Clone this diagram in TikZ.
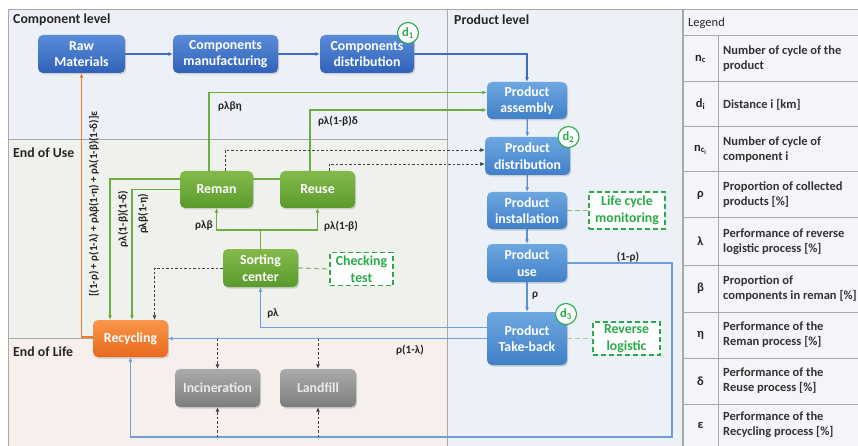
\documentclass[tikz,border=0pt]{standalone}
\usepackage{fontspec}
\setmainfont{Carlito}
\usetikzlibrary{shadows,arrows.meta,calc}
\pgfdeclarelayer{back}
\pgfdeclarelayer{lines}
\pgfsetlayers{back,lines,main}
\definecolor{panelC}{HTML}{EDF0F6}
\definecolor{panelU}{HTML}{EEF1EC}
\definecolor{panelL}{HTML}{F6EFEC}
\definecolor{panelP}{HTML}{ECF0F7}
\definecolor{legfill}{HTML}{F4F5F8}
\definecolor{gridc}{HTML}{A8A8A8}
\definecolor{bdTop}{HTML}{5B8CD9}
\definecolor{bdBot}{HTML}{2F62B8}
\definecolor{blTop}{HTML}{6DA7E1}
\definecolor{blBot}{HTML}{4080C8}
\definecolor{grTop}{HTML}{84BA4C}
\definecolor{grBot}{HTML}{5A9A2D}
\definecolor{orTop}{HTML}{F8964A}
\definecolor{orBot}{HTML}{E86A1C}
\definecolor{gyTop}{HTML}{AAAAAA}
\definecolor{gyBot}{HTML}{7E7E7E}
\definecolor{lnDark}{HTML}{3E6BC1}
\definecolor{lnBlue}{HTML}{5B8FD0}
\definecolor{lnLight}{HTML}{6E9FD8}
\definecolor{lnGreen}{HTML}{6DAD3E}
\definecolor{lnOrange}{HTML}{EE7A30}
\definecolor{txGreen}{HTML}{2BAA4A}
\tikzset{
  nfont/.style={font=\fontsize{13.8}{16.5}\selectfont\bfseries},
  box/.style={rounded corners=5pt, inner sep=0pt, align=center, text=white, nfont,
    drop shadow={opacity=0.3, shadow xshift=1.2pt, shadow yshift=-1.5pt}},
  bluedark/.style={box, top color=bdTop, bottom color=bdBot},
  bluelight/.style={box, top color=blTop, bottom color=blBot},
  greenbox/.style={box, top color=grTop, bottom color=grBot},
  orangebox/.style={box, top color=orTop, bottom color=orBot},
  graybox/.style={box, top color=gyTop, bottom color=gyBot, text=white!92!black},
  checkbox/.style={draw=txGreen, dashed, dash pattern=on 5pt off 3pt, line width=1.2pt, fill=white,
    inner sep=0pt, align=center, text=txGreen, nfont},
  dcirc/.style={circle, draw=txGreen, line width=1.1pt, fill=white, inner sep=0pt,
    minimum size=21pt, text=txGreen, font=\fontsize{12.5}{12.5}\selectfont\bfseries},
  tip/.style={-{Latex[length=4.5pt,width=4pt]}},
  dkline/.style={draw=lnDark, line width=1.2pt},
  blline/.style={draw=lnBlue, line width=1.2pt},
  ltline/.style={draw=lnLight, line width=1.5pt},
  grline/.style={draw=lnGreen, line width=1.3pt},
  orline/.style={draw=lnOrange, line width=1.5pt},
  dashline/.style={draw=black!75, line width=0.8pt, dash pattern=on 2.5pt off 2pt},
  gdash/.style={draw=lnGreen!80, line width=1.2pt, dash pattern=on 5pt off 3pt},
  elabel/.style={font=\fontsize{11.3}{13}\selectfont\bfseries, text=black!85, inner sep=0pt},
  ptitle/.style={font=\fontsize{13.8}{16}\selectfont\bfseries, text=black!85, anchor=west, inner sep=0pt},
  legtext/.style={font=\fontsize{12.5}{15}\selectfont\bfseries, text=black!80, anchor=west, align=left, inner sep=0pt},
  legsym/.style={font=\fontsize{12.5}{13}\selectfont\bfseries, text=black!85, inner sep=0pt},
}
\begin{document}
\begin{tikzpicture}[x=1pt,y=-1pt]
\useasboundingbox (0,0) rectangle (858,446);

% panels
\begin{pgfonlayer}{back}
\fill[white] (0,0) rectangle (858,446);
\fill[panelC] (8,10) rectangle (447,140);
\fill[panelU] (8,140) rectangle (447,338);
\fill[panelL] (8,338) rectangle (447,446);
\fill[panelP] (447,10) rectangle (682,446);
\draw[gridc, line width=1pt] (8,446) -- (8,10) -- (682,10) -- (682,446);
\draw[gridc, line width=1pt] (8,140) -- (447,140);
\draw[gridc, line width=1pt] (8,338) -- (447,338);
\draw[gridc, line width=1pt] (447,10) -- (447,446);
% legend
\fill[legfill] (683,10) rectangle (858,446);
\draw[gridc, line width=1pt] (858,10) -- (683,10) -- (683,446);
\foreach \yy in {36,82,127,172,218,265,312,358,404}
  \draw[gridc, line width=1pt] (683,\yy) -- (858,\yy);
\draw[gridc, line width=1pt] (718,36) -- (718,446);
\end{pgfonlayer}

\node[ptitle] (tcomp) at (13,20) {Component level};
\node[ptitle] (tuse) at (13,153) {End of Use};
\node[ptitle] (tlife) at (13,352) {End of Life};
\node[ptitle] (tprod) at (454,20) {Product level};
\node[ptitle, font=\fontsize{12.5}{14}\selectfont, text=black!85] (tleg) at (688,23) {Legend};

% nodes
\node[bluedark, minimum width=87pt, minimum height=38pt] (raw) at (81.5,54) {Raw\\Materials};
\node[bluedark, minimum width=105pt, minimum height=38pt] (cman) at (225.5,54) {Components\\manufacturing};
\node[bluedark, minimum width=94pt, minimum height=38pt] (cdist) at (367,54) {Components\\distribution};
\node[bluelight, minimum width=80pt, minimum height=37pt] (pass) at (527,100.5) {Product\\assembly};
\node[bluelight, minimum width=85pt, minimum height=38pt] (pdist) at (527.5,156) {Product\\distribution};
\node[bluelight, minimum width=80pt, minimum height=37pt] (pinst) at (527,210.5) {Product\\installation};
\node[bluelight, minimum width=80pt, minimum height=38pt] (puse) at (527,263) {Product\\use};
\node[bluelight, minimum width=80pt, minimum height=53pt] (ptb) at (527,338.5) {Product\\Take-back};
\node[greenbox, minimum width=73pt, minimum height=37pt] (reman) at (216.5,189.5) {Reman};
\node[greenbox, minimum width=75pt, minimum height=37pt] (reuse) at (317.5,189.5) {Reuse};
\node[greenbox, minimum width=75pt, minimum height=38pt] (sort) at (260.5,268) {Sorting\\center};
\node[orangebox, minimum width=75pt, minimum height=37pt] (recyc) at (130.5,338.5) {Recycling};
\node[graybox, minimum width=85pt, minimum height=38pt] (incin) at (217.5,388) {Incineration};
\node[graybox, minimum width=76pt, minimum height=38pt] (land) at (318,388) {Landfill};
\node[checkbox, minimum width=63pt, minimum height=33pt] (check) at (361.5,269) {Checking\\test};
\node[checkbox, minimum width=76pt, minimum height=37pt] (lcm) at (627,210.5) {Life cycle\\monitoring};
\node[checkbox, minimum width=67pt, minimum height=33pt] (revl) at (626.5,338.5) {Reverse\\logistic};
\node[dcirc] (d1) at (408,33) {d\textsubscript{1}};
\node[dcirc] (d2) at (568.5,137) {d\textsubscript{2}};
\node[dcirc] (d3) at (566,314) {d\textsubscript{3}};

\coordinate (split) at (260.5,230);
\coordinate (cr) at (672,437);

\begin{pgfonlayer}{lines}
% top row
\draw[dkline, tip] (raw) -- (cman);
\draw[dkline, tip] (cman) -- (cdist);
\draw[dkline, tip] (cdist.east) -| (pass.north);
% product chain
\draw[blline, tip] (pass) -- (pdist);
\draw[blline, tip] (pdist) -- (pinst);
\draw[blline, tip] (pinst) -- (puse);
\draw[blline, tip] (puse) -- (ptb);
% returns
\draw[ltline, tip] (puse.east) -| (cr) -| (recyc.south);
\draw[ltline, tip] ([yshift=11pt]ptb.west) -| (sort.south);
\draw[ltline, tip] (ptb.west) -- (ptb.west -| recyc.east);
% green flows
\draw[grline] (sort.north) -- (split);
\draw[grline, tip] (split) -| (reman.south);
\draw[grline, tip] (split) -| (reuse.south);
\draw[grline, tip] ([xshift=-7.5pt]reman.north) |- ([yshift=8pt]pass.west);
\draw[grline, tip] ([xshift=-7.5pt]reuse.north) |- ([yshift=-9.5pt]pass.west);
\draw[grline, tip] ([yshift=10.5pt]reuse.west) -| ([xshift=-20.5pt]recyc.north);
\draw[grline, tip] (reman.west) -| ([xshift=1.5pt]recyc.north);
% orange
\draw[orline, tip] ([yshift=1.5pt]recyc.west) -| (raw.south);
% dashed black
\draw[dashline, tip] (sort.west) -| ([xshift=24pt]recyc.north);
\draw[dashline, tip] ([xshift=8.5pt]reman.north) |- ([yshift=6pt]pdist.west);
\draw[dashline, tip] ([xshift=11.5pt]reuse.north) |- ([yshift=-8pt]pdist.west);
\draw[dashline, tip] (incin.north |- ptb.west) -- (incin.north);
\draw[dashline, tip] (land.north |- ptb.west) -- (land.north);
\draw[dashline, tip] (incin.south |- cr) -- (incin.south);
\draw[dashline, tip] (land.south |- cr) -- (land.south);
% green dashed
\draw[gdash] (sort.east) -- (check.west);
\draw[gdash] (pinst.east) -- (lcm.west);
\draw[gdash, draw=lnGreen!60] (ptb.east) -- (revl.west);
\end{pgfonlayer}

% edge labels
\node[elabel] (l1) at (230,107) {ρλβη};
\node[elabel] (l2) at (338,121) {ρλ(1-β)δ};
\node[elabel] (l3) at (204,226) {ρλβ};
\node[elabel] (l4) at (341,226) {ρλ(1-β)};
\node[elabel] (l5) at (273,313) {ρλ};
\node[elabel] (l6) at (410,350) {ρ(1-λ)};
\node[elabel] (l7) at (535,296) {ρ};
\node[elabel] (l8) at (628,257) {(1-ρ)};
\node[elabel, rotate=90] (l9) at (123,219) {ρλ(1-β)(1-δ)};
\node[elabel, rotate=90] (l10) at (143,214) {ρλβ(1-η)};
\node[elabel, rotate=90, font=\fontsize{11}{12}\selectfont\bfseries] (l11) at (94,204) {[(1-ρ) + ρ(1-λ) + ρλβ(1-η) + ρλ(1-β)(1-δ)]ε};

% legend content
\node[legsym] (s1) at (700.5,59) {$\mathbf{n}_{\mathbf{c}}$};
\node[legtext] (t1) at (723,59) {Number of cycle of the\\product};
\node[legsym] (s2) at (700.5,104.5) {d\textsubscript{i}};
\node[legtext] (t2) at (723,104.5) {Distance i [km]};
\node[legsym] (s3) at (700.5,149.5) {$\mathbf{n}_{\mathbf{c}_{\mathbf{i}}}$};
\node[legtext] (t3) at (723,149.5) {Number of cycle of\\component i};
\node[legsym] (s4) at (700.5,195) {ρ};
\node[legtext] (t4) at (723,195) {Proportion of collected\\products [\%]};
\node[legsym] (s5) at (700.5,241.5) {λ};
\node[legtext] (t5) at (723,241.5) {Performance of reverse\\logistic process [\%]};
\node[legsym] (s6) at (700.5,288.5) {β};
\node[legtext] (t6) at (723,288.5) {Proportion of\\components in reman [\%]};
\node[legsym] (s7) at (700.5,335) {η};
\node[legtext] (t7) at (723,335) {Performance of the\\Reman process [\%]};
\node[legsym] (s8) at (700.5,381) {δ};
\node[legtext] (t8) at (723,381) {Performance of the\\Reuse process [\%]};
\node[legsym] (s9) at (700.5,425) {ε};
\node[legtext] (t9) at (723,425) {Performance of the\\Recycling process [\%]};
\end{tikzpicture}
\end{document}
